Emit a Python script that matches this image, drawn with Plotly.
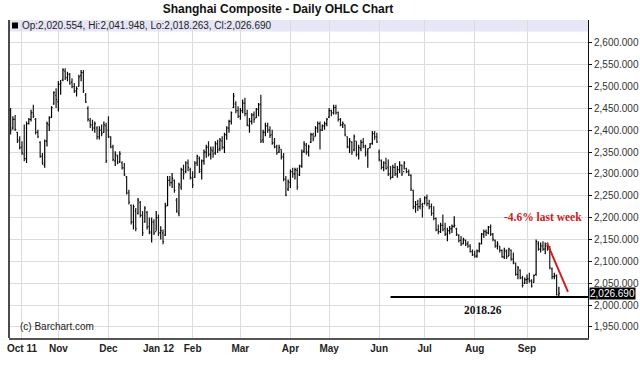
import pandas as pd
import plotly.graph_objects as go

# ---------------- data ----------------
holidays = ["2011-10-03", "2011-10-04", "2011-10-05", "2011-10-06", "2011-10-07",
            "2012-01-02", "2012-01-03", "2012-01-23", "2012-01-24", "2012-01-25",
            "2012-01-26", "2012-01-27", "2012-04-02", "2012-04-03", "2012-04-04",
            "2012-04-30", "2012-05-01", "2012-06-22"]
all_days = pd.bdate_range("2011-09-26", "2012-09-21")
dates = [d.strftime("%Y-%m-%d") for d in all_days if d.strftime("%Y-%m-%d") not in holidays]

high = [2451, 2432, 2435, 2396, 2386, 2375, 2413, 2420, 2428, 2447, 2458, 2428, 2401, 2375, 2348, 2379,
        2420, 2432, 2455, 2489, 2496, 2512, 2515, 2542, 2542, 2534, 2531, 2519, 2508, 2500, 2527, 2538,
        2538, 2485, 2455, 2428, 2424, 2420, 2409, 2409, 2413, 2420, 2417, 2432, 2386, 2367, 2352, 2344,
        2352, 2329, 2325, 2295, 2264, 2230, 2230, 2222, 2245, 2238, 2215, 2226, 2215, 2200, 2200, 2196,
        2215, 2207, 2180, 2173, 2234, 2295, 2295, 2302, 2287, 2245, 2280, 2314, 2321, 2329, 2333, 2314,
        2306, 2329, 2344, 2340, 2333, 2356, 2367, 2375, 2363, 2363, 2375, 2378, 2382, 2386, 2394, 2409,
        2424, 2443, 2485, 2466, 2455, 2451, 2470, 2474, 2447, 2428, 2439, 2443, 2451, 2462, 2481, 2401,
        2417, 2417, 2409, 2401, 2382, 2367, 2367, 2356, 2348, 2295, 2287, 2310, 2314, 2314, 2314, 2321,
        2356, 2375, 2371, 2367, 2394, 2394, 2409, 2420, 2420, 2413, 2420, 2428, 2451, 2447, 2458, 2458,
        2443, 2428, 2420, 2413, 2386, 2382, 2375, 2390, 2375, 2367, 2378, 2382, 2367, 2359, 2371, 2398,
        2398, 2394, 2356, 2333, 2329, 2337, 2333, 2318, 2321, 2325, 2318, 2329, 2321, 2329, 2314, 2310,
        2299, 2264, 2238, 2241, 2245, 2234, 2249, 2253, 2241, 2232, 2226, 2200, 2184, 2188, 2207, 2188,
        2177, 2181, 2184, 2203, 2177, 2162, 2158, 2154, 2150, 2146, 2139, 2127, 2124, 2127, 2143, 2165,
        2173, 2173, 2181, 2184, 2165, 2150, 2146, 2135, 2127, 2131, 2127, 2131, 2127, 2120, 2097, 2089,
        2082, 2067, 2063, 2070, 2074, 2059, 2070, 2150, 2146, 2143, 2146, 2143, 2143, 2135, 2086, 2074,
        2070, 2041.948]
low = [2390, 2401, 2398, 2371, 2356, 2344, 2329, 2325, 2413, 2420, 2428, 2390, 2382, 2337, 2321, 2314,
       2363, 2398, 2428, 2458, 2451, 2443, 2481, 2512, 2515, 2512, 2504, 2496, 2485, 2477, 2500, 2512,
       2485, 2462, 2420, 2405, 2398, 2394, 2379, 2379, 2386, 2394, 2325, 2382, 2359, 2329, 2318, 2322,
       2325, 2310, 2295, 2253, 2230, 2184, 2173, 2169, 2207, 2200, 2158, 2188, 2173, 2162, 2143, 2160,
       2170, 2158, 2150, 2139, 2158, 2226, 2272, 2268, 2257, 2211, 2203, 2264, 2287, 2302, 2306, 2287,
       2268, 2291, 2318, 2302, 2287, 2321, 2337, 2340, 2333, 2337, 2344, 2348, 2352, 2356, 2348, 2378,
       2394, 2413, 2451, 2439, 2428, 2424, 2439, 2432, 2409, 2394, 2413, 2417, 2428, 2432, 2371, 2371,
       2386, 2394, 2382, 2367, 2359, 2344, 2348, 2333, 2283, 2249, 2261, 2268, 2291, 2287, 2264, 2295,
       2314, 2348, 2344, 2340, 2371, 2375, 2386, 2394, 2356, 2398, 2401, 2409, 2428, 2432, 2436, 2436,
       2420, 2409, 2405, 2386, 2359, 2348, 2344, 2352, 2340, 2333, 2352, 2359, 2340, 2314, 2359, 2367,
       2378, 2371, 2329, 2310, 2306, 2310, 2295, 2287, 2291, 2295, 2291, 2302, 2295, 2310, 2302, 2295,
       2261, 2219, 2211, 2215, 2219, 2200, 2230, 2226, 2219, 2204, 2194, 2169, 2162, 2165, 2169, 2158,
       2146, 2162, 2165, 2177, 2158, 2143, 2135, 2139, 2135, 2131, 2120, 2112, 2108, 2108, 2120, 2139,
       2154, 2158, 2162, 2158, 2146, 2131, 2127, 2120, 2108, 2105, 2105, 2112, 2101, 2093, 2067, 2059,
       2059, 2040, 2048, 2048, 2051, 2040, 2051, 2067, 2124, 2120, 2124, 2116, 2124, 2082, 2059, 2059,
       2022, 2018.263]
open_ = [2445, 2405, 2425, 2395, 2378, 2362, 2345, 2335, 2415, 2425, 2440, 2425, 2395, 2372, 2340, 2320,
         2375, 2412, 2430, 2460, 2480, 2465, 2505, 2515, 2535, 2520, 2528, 2510, 2500, 2490, 2500, 2525,
         2532, 2480, 2450, 2422, 2412, 2405, 2405, 2385, 2400, 2395, 2410, 2400, 2384, 2362, 2330, 2342,
         2328, 2325, 2314, 2293, 2258, 2228, 2190, 2215, 2210, 2235, 2205, 2190, 2212, 2180, 2165, 2190,
         2168, 2200, 2165, 2165, 2160, 2228, 2285, 2280, 2285, 2240, 2210, 2270, 2310, 2305, 2325, 2310,
         2290, 2292, 2325, 2335, 2305, 2330, 2350, 2362, 2345, 2352, 2348, 2368, 2358, 2375, 2360, 2390,
         2405, 2420, 2452, 2460, 2445, 2432, 2445, 2462, 2438, 2410, 2420, 2435, 2428, 2448, 2460, 2378,
         2395, 2410, 2400, 2390, 2372, 2362, 2350, 2356, 2340, 2288, 2265, 2280, 2305, 2300, 2308, 2298,
         2318, 2352, 2365, 2350, 2372, 2390, 2385, 2405, 2415, 2400, 2410, 2415, 2430, 2445, 2440, 2452,
         2440, 2425, 2412, 2412, 2385, 2362, 2372, 2355, 2375, 2345, 2358, 2372, 2362, 2350, 2360, 2370,
         2392, 2385, 2350, 2330, 2315, 2325, 2315, 2300, 2292, 2315, 2300, 2310, 2320, 2305, 2312, 2305,
         2296, 2262, 2225, 2230, 2225, 2230, 2232, 2245, 2232, 2225, 2210, 2198, 2172, 2168, 2182, 2175,
         2162, 2170, 2175, 2180, 2175, 2160, 2148, 2140, 2148, 2140, 2135, 2122, 2115, 2112, 2124, 2140,
         2162, 2168, 2165, 2178, 2162, 2148, 2135, 2135, 2125, 2110, 2122, 2112, 2125, 2105, 2095, 2070,
         2080, 2062, 2050, 2058, 2060, 2055, 2052, 2070, 2140, 2128, 2135, 2128, 2135, 2128, 2082, 2065,
         2066, 2020.554]
close = [2400, 2425, 2402, 2375, 2360, 2348, 2335, 2415, 2425, 2440, 2432, 2395, 2385, 2340, 2325, 2375,
         2415, 2428, 2452, 2486, 2470, 2505, 2508, 2538, 2520, 2528, 2508, 2500, 2490, 2495, 2522, 2532,
         2490, 2465, 2425, 2412, 2405, 2415, 2385, 2400, 2392, 2412, 2330, 2386, 2362, 2333, 2345, 2325,
         2346, 2314, 2298, 2256, 2235, 2190, 2225, 2175, 2240, 2205, 2165, 2222, 2178, 2168, 2190, 2165,
         2200, 2165, 2170, 2145, 2225, 2285, 2280, 2290, 2262, 2215, 2275, 2310, 2300, 2325, 2315, 2292,
         2275, 2325, 2340, 2310, 2330, 2350, 2360, 2345, 2355, 2345, 2370, 2355, 2378, 2362, 2390, 2405,
         2420, 2440, 2478, 2445, 2432, 2445, 2462, 2438, 2412, 2420, 2435, 2425, 2448, 2458, 2375, 2395,
         2410, 2400, 2388, 2370, 2362, 2348, 2360, 2338, 2288, 2252, 2282, 2305, 2300, 2310, 2270, 2318,
         2350, 2368, 2350, 2362, 2390, 2380, 2405, 2415, 2400, 2410, 2415, 2425, 2445, 2440, 2452, 2440,
         2425, 2412, 2415, 2390, 2362, 2375, 2350, 2385, 2345, 2360, 2372, 2365, 2345, 2358, 2368, 2392,
         2385, 2373, 2333, 2315, 2325, 2312, 2300, 2292, 2315, 2300, 2310, 2320, 2300, 2325, 2305, 2298,
         2265, 2225, 2230, 2225, 2238, 2225, 2245, 2232, 2225, 2210, 2198, 2172, 2168, 2182, 2172, 2162,
         2170, 2175, 2180, 2182, 2162, 2148, 2140, 2150, 2140, 2135, 2122, 2115, 2112, 2124, 2140, 2162,
         2168, 2165, 2178, 2162, 2150, 2135, 2140, 2125, 2110, 2125, 2110, 2128, 2105, 2098, 2070, 2085,
         2062, 2045, 2058, 2060, 2055, 2043, 2068, 2145, 2128, 2135, 2128, 2135, 2128, 2085, 2065, 2068,
         2024, 2026.690]

month_labels = ["Oct 11", "Nov", "Dec", "Jan 12", "Feb", "Mar", "Apr", "May", "Jun", "Jul", "Aug", "Sep"]
price_ticks = [1950, 2000, 2050, 2100, 2150, 2200, 2250, 2300, 2350, 2400, 2450, 2500, 2550, 2600]
support_level = 2018.26
last_week_label = "-4.6% last week"
legend_text = "Op:2,020.554, Hi:2,041.948, Lo:2,018.263, Cl:2,026.690"

# --------------------------------------------------------------------------
idx = list(range(len(dates)))
tick_pos = []
seen = set()
for i, d in enumerate(dates):
    ym = d[:7]
    if ym not in seen:
        seen.add(ym)
        if ym != "2011-09":
            tick_pos.append(i)

fig = go.Figure()
fig.add_trace(go.Ohlc(
    x=idx, open=open_, high=high, low=low, close=close,
    increasing=dict(line=dict(color="#000000", width=1.2)),
    decreasing=dict(line=dict(color="#1a1a1a", width=1.2)),
    tickwidth=0.45, text=dates, showlegend=False, hoverinfo="skip",
))

x_left, x_right = -0.7, 253.8
PW, PH = 579, 318  # plot area size in px

fig.update_layout(
    width=640, height=375,
    margin=dict(l=9, r=52, t=20, b=37, autoexpand=False),
    paper_bgcolor="white", plot_bgcolor="white",
    font=dict(family="Liberation Sans, Arial, sans-serif", size=10, color="#222"),
    title=dict(text="<b>Shanghai Composite - Daily OHLC Chart</b>",
               x=278 / 640, xanchor="center", y=1 - 8.5 / 375, yanchor="middle",
               font=dict(family="Liberation Sans, Arial, sans-serif", size=12, color="#111")),
    xaxis=dict(range=[x_left, x_right], rangeslider=dict(visible=False),
               tickvals=tick_pos, ticktext=month_labels, automargin=False,
               showgrid=True, gridcolor="#dcdcdc", gridwidth=1,
               showline=True, linecolor="#555", linewidth=2, ticks="",
               tickfont=dict(size=10, color="#222", weight="bold"),
               zeroline=False),
    yaxis=dict(side="right", range=[1924.5, 2652.2], tickmode="array", tickvals=price_ticks,
               tickformat=",.3f", showgrid=True, gridcolor="#dcdcdc", gridwidth=1,
               showline=True, linecolor="#111", linewidth=1, automargin=False,
               ticks="outside", ticklen=3, tickcolor="#111",
               tickfont=dict(size=10, color="#333"), zeroline=False),
    shapes=[
        dict(type="rect", xref="paper", yref="paper", x0=0, x1=1, y0=1 - 11.5 / PH, y1=1,
             fillcolor="#e6e6f6", line=dict(width=0), layer="below"),
        dict(type="rect", xref="paper", yref="paper", x0=3 / PW, x1=9 / PW,
             y0=1 - 8.5 / PH, y1=1 - 2.5 / PH, fillcolor="black", line=dict(width=0)),
        dict(type="line", xref="paper", yref="paper", x0=0, x1=0, y0=0, y1=1,
             line=dict(color="#111", width=1.5)),
        dict(type="line", xref="x", yref="y", x0=167, x1=x_right, y0=support_level, y1=support_level,
             line=dict(color="black", width=2)),
        dict(type="line", xref="x", yref="y", x0=235.8, x1=245.0, y0=2142, y1=2030,
             line=dict(color="#cc2222", width=2)),
    ],
    annotations=[
        dict(text=legend_text, xref="paper", yref="paper", x=11 / PW, y=1 - 5.8 / PH,
             xanchor="left", yanchor="middle", showarrow=False,
             font=dict(size=10, color="#222")),
        dict(text="(c) Barchart.com", xref="paper", yref="paper", x=9 / PW, y=12 / PH,
             xanchor="left", yanchor="middle", showarrow=False,
             font=dict(size=10, color="#222")),
        dict(text="<b>%.2f</b>" % support_level, xref="x", yref="y", x=207.6, y=1989,
             xanchor="center", yanchor="middle", showarrow=False,
             font=dict(family="Liberation Serif, Times New Roman, serif", size=11.5, color="#111")),
        dict(text="<b>" + last_week_label + "</b>", xref="x", yref="y", x=233.8, y=2201,
             xanchor="center", yanchor="middle", showarrow=False,
             font=dict(family="Liberation Serif, Times New Roman, serif", size=11.5, color="#cc2222")),
        dict(text="{:,.3f}".format(close[-1]), xref="paper", yref="y", x=1, y=close[-1],
             xanchor="left", yanchor="middle", showarrow=False, xshift=1,
             bgcolor="black", borderpad=0, font=dict(size=10, color="white")),
    ],
)

fig.write_html("out.html", config={"displayModeBar": False},
               post_script="document.body.style.margin='0';document.body.style.padding='0';")
